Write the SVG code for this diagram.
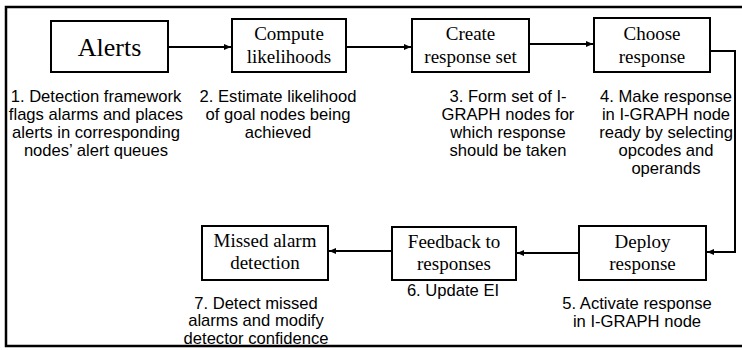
<svg xmlns="http://www.w3.org/2000/svg" width="742" height="350" viewBox="0 0 742 350">
<style>
.box{fill:#fff;stroke:#000;stroke-width:2}
.bt{font-family:"Liberation Serif","Times New Roman",serif;font-size:19px;text-anchor:middle;fill:#000}
.lb{font-family:"Liberation Sans",Arial,sans-serif;font-size:16.6px;text-anchor:middle;fill:#000}
.cn{fill:none;stroke:#000;stroke-width:2}
</style>
<defs>
<marker id="ah" markerWidth="8" markerHeight="8" refX="7" refY="4" orient="auto" markerUnits="userSpaceOnUse">
<path d="M0,1 L7,4 L0,7 Z" fill="#000"/>
</marker>
</defs>
<rect x="6" y="7" width="740" height="339" fill="#fff" stroke="#000" stroke-width="2.5"/>
<g id="connectors">
<path class="cn" d="M168,47 H231" marker-end="url(#ah)"/>
<path class="cn" d="M346,47 H411" marker-end="url(#ah)"/>
<path class="cn" d="M529,44 H593" marker-end="url(#ah)"/>
<path class="cn" d="M710,51 H735 V252 H707" marker-end="url(#ah)"/>
<path class="cn" d="M579,253 H517" marker-end="url(#ah)"/>
<path class="cn" d="M392,251 H329" marker-end="url(#ah)"/>
</g>
<g id="alerts">
<rect class="box" x="51" y="21" width="117" height="51"/>
<text class="bt" x="109.5" y="56" style="font-size:26px">Alerts</text>
<text class="lb" x="96" y="102">1. Detection framework</text>
<text class="lb" x="96" y="120">flags alarms and places</text>
<text class="lb" x="96" y="138">alerts in corresponding</text>
<text class="lb" x="96" y="156">nodes’ alert queues</text>
</g>
<g id="compute">
<rect class="box" x="232" y="19" width="114" height="53"/>
<text class="bt" x="289" y="40">Compute</text>
<text class="bt" x="289" y="63">likelihoods</text>
<text class="lb" x="278" y="102">2. Estimate likelihood</text>
<text class="lb" x="278" y="120">of goal nodes being</text>
<text class="lb" x="278" y="138">achieved</text>
</g>
<g id="create">
<rect class="box" x="412" y="19" width="117" height="53"/>
<text class="bt" x="470.5" y="40">Create</text>
<text class="bt" x="470.5" y="63">response set</text>
<text class="lb" x="508" y="102">3. Form set of I-</text>
<text class="lb" x="508" y="120">GRAPH nodes for</text>
<text class="lb" x="508" y="138">which response</text>
<text class="lb" x="508" y="156">should be taken</text>
</g>
<g id="choose">
<rect class="box" x="594" y="18" width="116" height="54"/>
<text class="bt" x="652" y="40">Choose</text>
<text class="bt" x="652" y="63">response</text>
<text class="lb" x="666" y="102">4. Make response</text>
<text class="lb" x="666" y="120">in I-GRAPH node</text>
<text class="lb" x="666" y="138">ready by selecting</text>
<text class="lb" x="666" y="156">opcodes and</text>
<text class="lb" x="666" y="174">operands</text>
</g>
<g id="deploy">
<rect class="box" x="579" y="226" width="127" height="54"/>
<text class="bt" x="642.5" y="248">Deploy</text>
<text class="bt" x="642.5" y="270">response</text>
<text class="lb" x="637" y="309">5. Activate response</text>
<text class="lb" x="637" y="327">in I-GRAPH node</text>
</g>
<g id="feedback">
<rect class="box" x="392" y="227" width="124" height="53"/>
<text class="bt" x="454" y="248">Feedback to</text>
<text class="bt" x="454" y="270">responses</text>
<text class="lb" x="453" y="296">6. Update EI</text>
</g>
<g id="missed">
<rect class="box" x="202" y="226" width="126" height="54"/>
<text class="bt" x="265" y="247">Missed alarm</text>
<text class="bt" x="265" y="269">detection</text>
<text class="lb" x="256" y="308.5">7. Detect missed</text>
<text class="lb" x="256" y="326">alarms and modify</text>
<text class="lb" x="256" y="343.5">detector confidence</text>
</g>
</svg>
